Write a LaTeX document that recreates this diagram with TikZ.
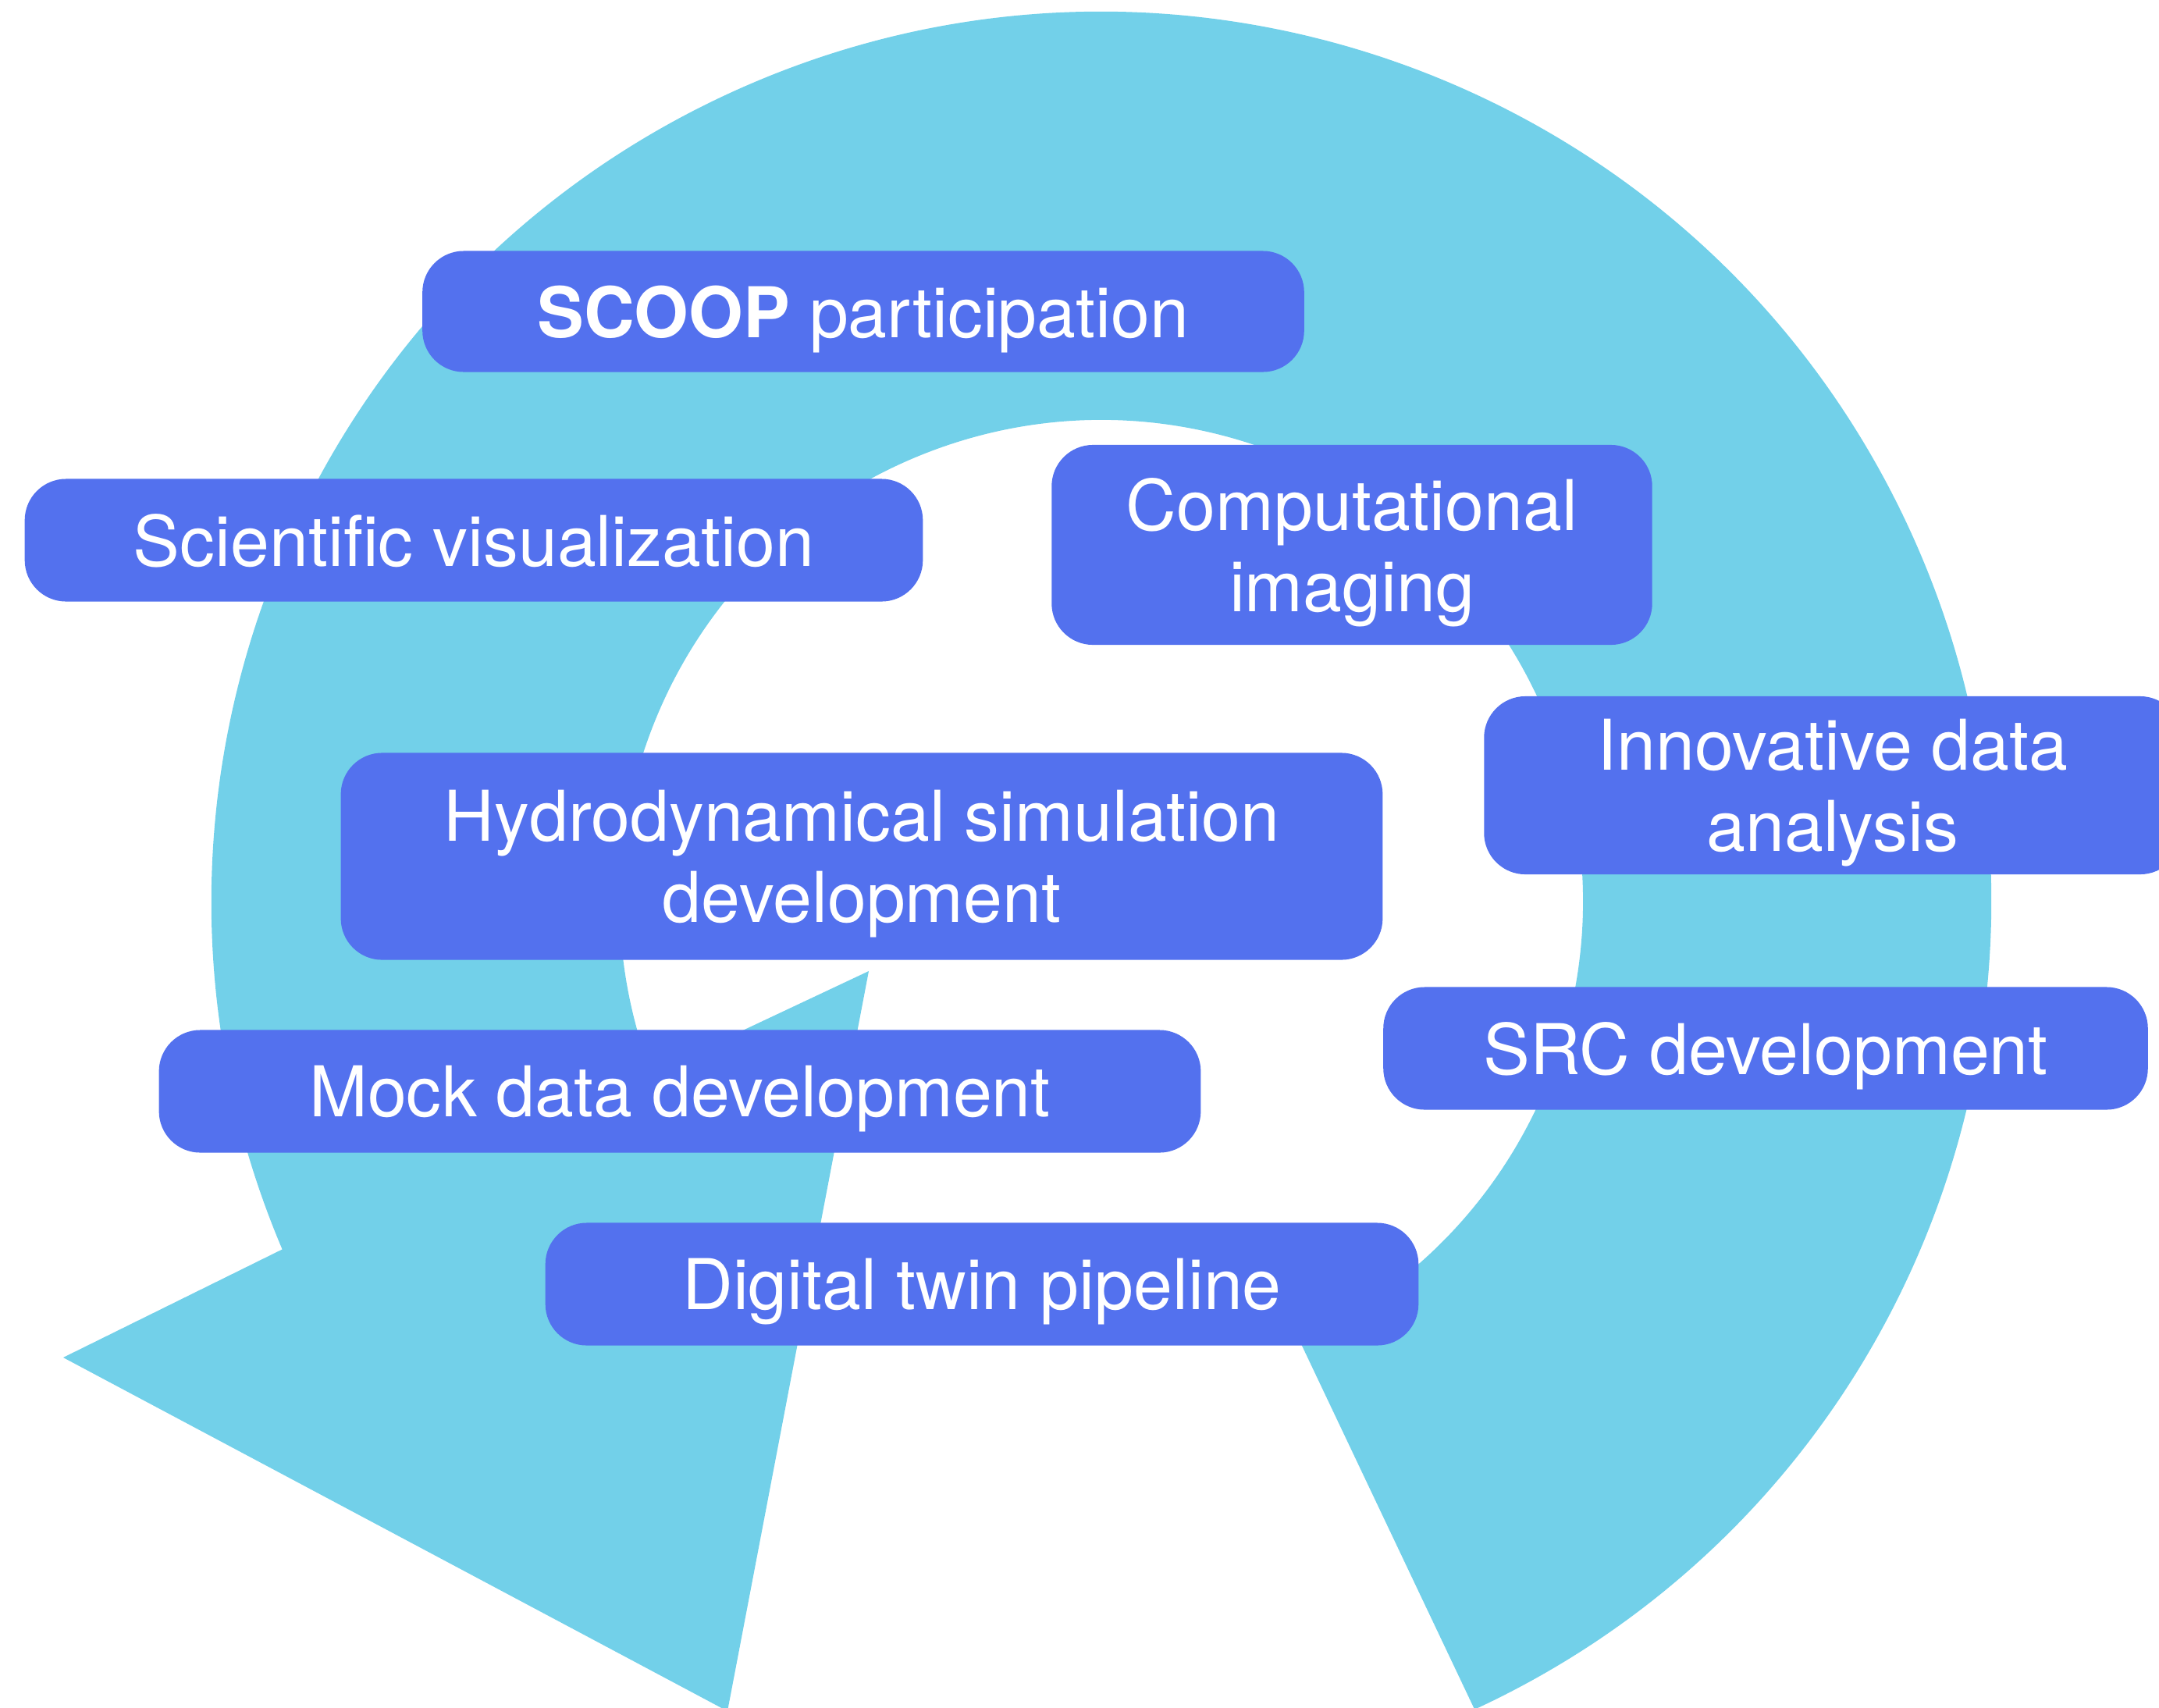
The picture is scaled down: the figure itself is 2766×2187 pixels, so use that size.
\documentclass[tikz,border=0pt]{standalone}
\usepackage{fontspec}
\setmainfont{TeX Gyre Heros}
\usetikzlibrary{calc}
\definecolor{ringblue}{RGB}{114,208,233}
\definecolor{boxblue}{RGB}{83,113,238}

\begin{document}
\begin{tikzpicture}[x=0.01cm,y=0.01cm,
  task/.style={fill=boxblue,rounded corners=0.53cm,text=white,align=center,
    inner sep=0pt,text depth=0pt,font=\fontsize{25.5}{29.5}\selectfont}]
  % --- canvas ---
  \useasboundingbox (0,0) rectangle (2766,-2187);
  \clip (0,0) rectangle (2766,-2187);
  % --- the circular arrow ---
  \coordinate (C) at (1411,-1155);     % centre of the ring
  \coordinate (W) at (81,-1739);       % outer wing of the head
  \coordinate (T) at (932,-2192);      % tip of the head
  \coordinate (V) at (1113,-1244);     % inner wing of the head
  \fill[ringblue] ($(C)+(-65.2:1140)$) arc[start angle=-65.2,end angle=203,radius=1140]
    -- (W) -- (T) -- (V) -- ($(C)+(200.9:617)$)
    arc[start angle=200.9,end angle=-65.7,radius=617] -- cycle;
  % --- tasks ---
  \node[task,minimum width=11.29cm,minimum height=1.55cm] (scoop) at (1106,-399) {\textbf{SCOOP} participation};
  \node[task,minimum width=11.50cm,minimum height=1.57cm] (vis)   at (607,-692)  {Scientific visualization};
  \node[task,minimum width=7.69cm,minimum height=2.56cm]  (img)   at (1732,-698) {Computational\\imaging};
  \node[task,minimum width=8.93cm,minimum height=2.28cm]  (ida)   at (2348,-1006) {Innovative data\\analysis};
  \node[task,minimum width=13.34cm,minimum height=2.65cm] (hydro) at (1104,-1097) {Hydrodynamical simulation\\development};
  \node[task,minimum width=9.79cm,minimum height=1.57cm]  (src)   at (2262,-1343) {SRC development};
  \node[task,minimum width=13.34cm,minimum height=1.57cm] (mock)  at (871,-1398)  {Mock data development};
  \node[task,minimum width=11.18cm,minimum height=1.57cm] (twin)  at (1258,-1645) {Digital twin pipeline};
\end{tikzpicture}
\end{document}
